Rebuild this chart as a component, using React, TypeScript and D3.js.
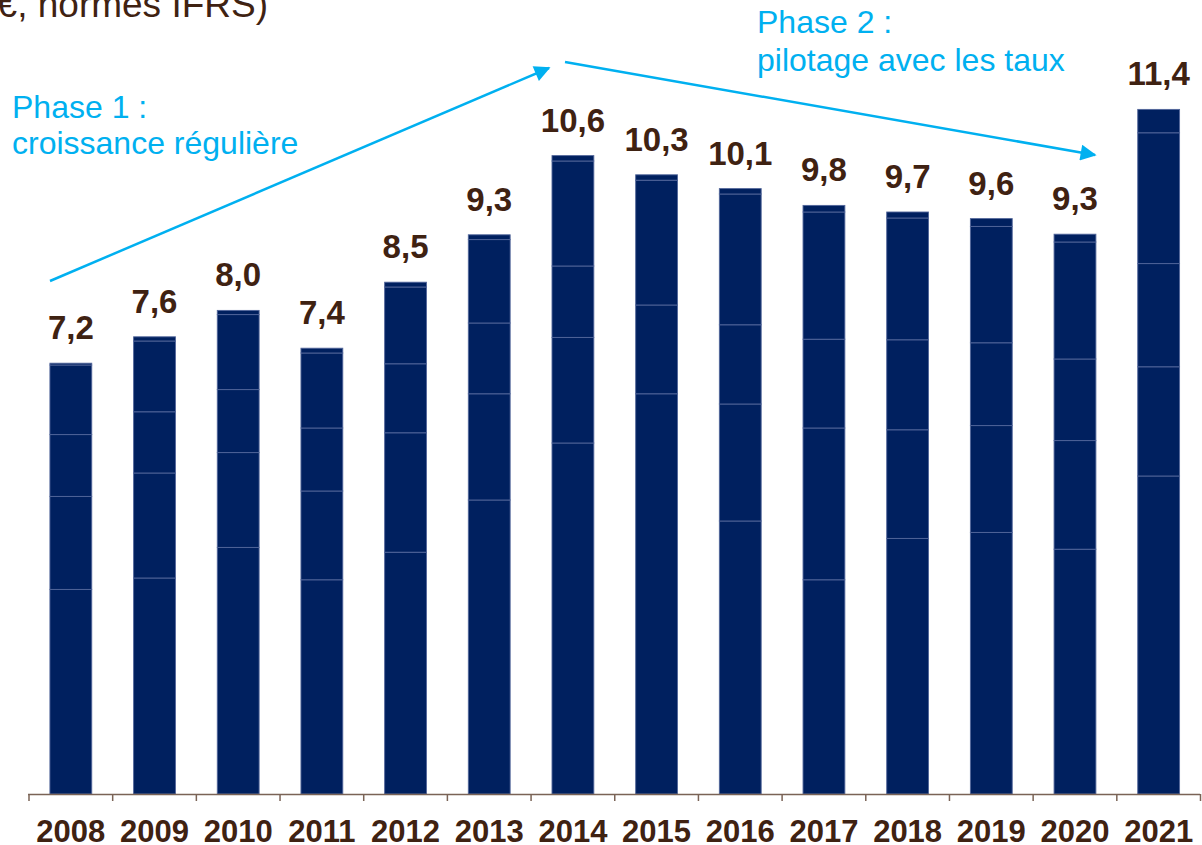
import React from "react";
import * as d3 from "d3";

const years = ["2008","2009","2010","2011","2012","2013","2014","2015","2016","2017","2018","2019","2020","2021"];
// stacked components (bottom to top), in Md€
const seg1 = [3.41, 3.60, 4.11, 3.57, 4.03, 4.90, 5.85, 6.67, 4.55, 3.57, 4.26, 4.36, 4.08, 5.30];
const seg2 = [1.55, 1.75, 1.58, 1.48, 1.99, 1.77, 1.76, 0.00, 1.95, 2.53, 1.81, 1.78, 1.81, 1.82];
const seg3 = [1.03, 1.02, 1.05, 1.05, 1.15, 1.18, 1.19, 1.48, 1.32, 1.48, 1.50, 1.38, 1.36, 1.72];
const seg4 = [1.16, 1.18, 1.25, 1.25, 1.28, 1.39, 1.75, 2.08, 2.18, 2.12, 2.03, 1.94, 1.95, 2.18];
const seg5 = [0.03, 0.07, 0.07, 0.08, 0.08, 0.08, 0.09, 0.09, 0.09, 0.11, 0.10, 0.13, 0.13, 0.39];
const totalLabels = ["7,2","7,6","8,0","7,4","8,5","9,3","10,6","10,3","10,1","9,8","9,7","9,6","9,3","11,4"];

const W = 1202, H = 845;
const BAR = "#00205F";
const BROWN = "#3F2212";
const CYAN = "#00B0F0";
const FONT = "'Liberation Sans', Arial, sans-serif";

export default function App() {
  const x = d3.scaleBand<string>().domain(years).range([29, 1200.5]).paddingInner(0.5).paddingOuter(0.25);
  const y = d3.scaleLinear().domain([0, 12]).range([794, 74]);
  const keys = ["s1", "s2", "s3", "s4", "s5"];
  const rows = years.map((yr, i) => ({ year: yr, s1: seg1[i], s2: seg2[i], s3: seg3[i], s4: seg4[i], s5: seg5[i] }));
  const stacked = d3.stack<any>().keys(keys)(rows);
  const step = x.step();
  const x0 = x.range()[0];
  const ticks = d3.range(years.length + 1).map((i) => x0 + i * step);

  return (
    <div style={{ position: "absolute", left: 0, top: 0, width: W, height: H, overflow: "hidden" }}>
      <svg width={W} height={H} style={{ display: "block", fontFamily: FONT }}>
        <defs>
          <marker id="ah2" viewBox="0 0 10 10" refX="9" refY="5" markerWidth="22" markerHeight="16" markerUnits="userSpaceOnUse" orient="auto">
            <path d="M0,0 L10,5 L0,10 z" fill={CYAN} />
          </marker>
        </defs>
        <rect width={W} height={H} fill="#fff" />
        <text x={268} y={17} textAnchor="end" fontSize={37} fill={BROWN}>(en Md€, normes IFRS)</text>

        {stacked.map((layer) =>
          layer.map((d, i) => {
            const h = y(d[0]) - y(d[1]);
            if (h <= 0) return null;
            return (
              <rect key={layer.key + i} x={x(years[i])} y={y(d[1])} width={x.bandwidth()} height={h}
                fill={BAR} stroke="#52669a" strokeWidth={0.9} />
            );
          })
        )}

        {years.map((yr, i) => {
          const tot = seg1[i] + seg2[i] + seg3[i] + seg4[i] + seg5[i];
          return (
            <text key={"l" + yr} x={(x(yr) as number) + x.bandwidth() / 2} y={y(tot) - 24} textAnchor="middle"
              fontSize={33} fontWeight="bold" fill={BROWN}>{totalLabels[i]}</text>
          );
        })}

        <line x1={28} x2={1200} y1={794.5} y2={794.5} stroke="#7a6356" strokeWidth={1.5} />
        {ticks.map((t, i) => (
          <line key={"t" + i} x1={t} x2={t} y1={794} y2={801} stroke="#7a6356" strokeWidth={1.5} />
        ))}
        {years.map((yr) => (
          <text key={"y" + yr} x={(x(yr) as number) + x.bandwidth() / 2} y={842} textAnchor="middle"
            fontSize={31} fontWeight="bold" fill={BROWN}>{yr}</text>
        ))}

        <line x1={50} y1={281} x2={549} y2={68} stroke={CYAN} strokeWidth={2.5} markerEnd="url(#ah2)" />
        <line x1={565} y1={62} x2={1095} y2={155} stroke={CYAN} strokeWidth={2.5} markerEnd="url(#ah2)" />

        <text x={12} y={118} fontSize={32} fill={CYAN}>Phase 1 :</text>
        <text x={12} y={154} fontSize={32} fill={CYAN}>croissance régulière</text>
        <text x={757} y={33} fontSize={32} fill={CYAN}>Phase 2 :</text>
        <text x={757} y={71} fontSize={32} fill={CYAN}>pilotage avec les taux</text>
      </svg>
    </div>
  );
}
